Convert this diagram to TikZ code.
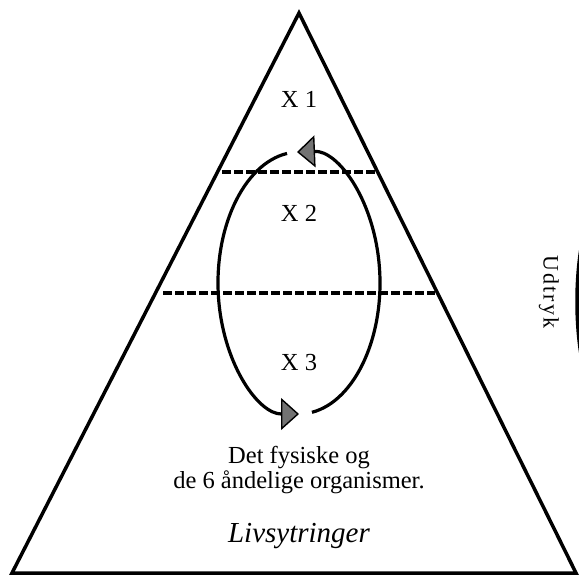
\documentclass[tikz,border=0pt]{standalone}
\usepackage{fontspec}
\setmainfont{Liberation Serif}
\usetikzlibrary{arrows.meta}
\tikzset{
  edge/.style={line width=3.5pt, line join=miter},
  level/.style={line width=3.5pt, dash pattern=on 9pt off 3pt},
  loop/.style={line width=3.2pt},
  tip/.style={-{Triangle[length=18pt,width=32pt,line width=1.4pt,fill=black!55]}},
  lbl/.style={font=\fontsize{24.5}{25}\selectfont, inner sep=0pt, anchor=base},
}
\begin{document}
\begin{tikzpicture}[x=1pt,y=-1pt]
\useasboundingbox (0,0) rectangle (579,578);
% triangle
\coordinate (apex) at (299,13);
\coordinate (bl) at (12,573);
\coordinate (br) at (576,573);
\draw[edge] (apex) -- (bl) -- (br) -- cycle;
% level lines
\coordinate (l1a) at (222,172); \coordinate (l1b) at (376,172);
\coordinate (l2a) at (163,293); \coordinate (l2b) at (435,293);
\draw[level] (l1a) -- (l1b);
\draw[level] (l2a) -- (l2b);
% cycle loop
\coordinate (c) at (299,283);
\draw[loop,tip] (c) ++(80.8:81 and 131) arc[start angle=80.8, end angle=-91.4, x radius=81, y radius=131];
\draw[loop,tip] (c) ++(-98.5:81 and 131) arc[start angle=-98.5, end angle=-270, x radius=81, y radius=131];
% labels
\node[lbl] (x1) at (299,108) {X 1};
\node[lbl] (x2) at (299,221) {X 2};
\node[lbl] (x3) at (299,370) {X 3};
\node[lbl] (t1) at (299,463) {Det fysiske og};
\node[lbl] (t2) at (299,488) {de 6 åndelige organismer.};
\node[lbl, font=\fontsize{29}{29}\selectfont\itshape] (liv) at (299,542) {Livsytringer};
\node[inner sep=0pt, rotate=-90, font=\fontsize{22}{22}\selectfont\addfontfeature{LetterSpace=10}] (udt) at (549,292) {Udtryk};
% partial arc at right edge
\fill (579,250) .. controls (574,282) and (574,321) .. (579,353) -- cycle;
\end{tikzpicture}
\end{document}
